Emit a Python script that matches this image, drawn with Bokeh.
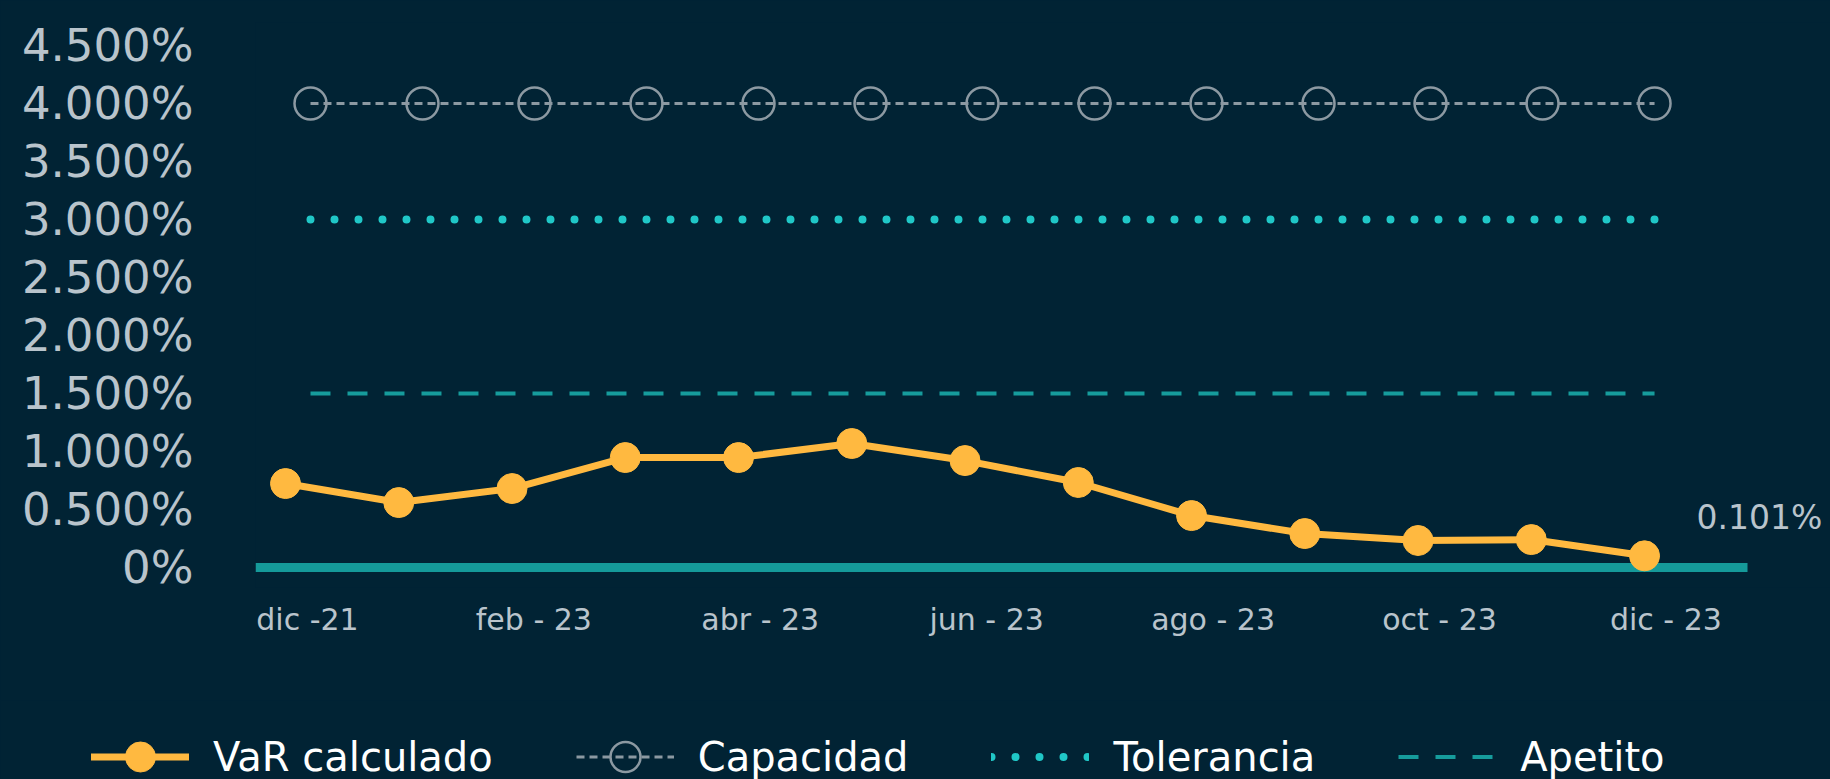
from bokeh.plotting import figure
from bokeh.layouts import column
from bokeh.models import (Range1d, LinearAxis, FixedTicker, Legend, LegendItem,
                          Label, ColumnDataSource)
from bokeh.embed import file_html
from bokeh.resources import INLINE

# ---------------- data ----------------
months = ["dic -21", "ene - 23", "feb - 23", "mar - 23", "abr - 23", "may - 23",
          "jun - 23", "jul - 23", "ago - 23", "sep - 23", "oct - 23", "nov - 23",
          "dic - 23"]
var_calculado = [0.724, 0.560, 0.681, 0.948, 0.948, 1.069, 0.922, 0.733,
                 0.448, 0.293, 0.233, 0.241, 0.101]
capacidad = [4.0, 4.0, 4.0, 4.0, 4.0, 4.0, 4.0, 4.0, 4.0, 4.0, 4.0, 4.0, 4.0]
tolerancia = [3.0, 3.0, 3.0, 3.0, 3.0, 3.0, 3.0, 3.0, 3.0, 3.0, 3.0, 3.0, 3.0]
apetito = [1.5, 1.5, 1.5, 1.5, 1.5, 1.5, 1.5, 1.5, 1.5, 1.5, 1.5, 1.5, 1.5]
series_names = ["VaR calculado", "Capacidad", "Tolerancia", "Apetito"]
y_ticks = [0, 0.5, 1.0, 1.5, 2.0, 2.5, 3.0, 3.5, 4.0, 4.5]
y_tick_labels = ["0%", "0.500%", "1.000%", "1.500%", "2.000%", "2.500%",
                 "3.000%", "3.500%", "4.000%", "4.500%"]
x_label_ticks = [0, 2, 4, 6, 8, 10, 12]

idx = list(range(len(months)))

BG = "#012334"
FONT = "DejaVu Sans"
C_VAR = "#FFB940"
C_CAP = "#8C99A2"
C_TOL = "#20C7C7"
C_APE = "#169C9C"
C_BASE = "#159A9A"
C_TICK = "#B9C4CC"

STY_VAR_L = dict(line_color=C_VAR, line_width=7, line_cap="round", line_join="round")
STY_VAR_M = dict(size=30, fill_color=C_VAR, line_color=C_VAR)
STY_CAP_L = dict(line_color=C_CAP, line_width=3, line_dash="8 5")
STY_CAP_M = dict(size=32, fill_color=None, line_color=C_CAP, line_width=2.5)
STY_TOL = dict(line_color=C_TOL, line_width=8, line_dash="0 24", line_cap="round")
STY_APE = dict(line_color=C_APE, line_width=4, line_dash="20 17")

X_START = -0.491      # left edge of the plotting area (category units)
BASE_END = 12.83      # where the zero line stops

src = ColumnDataSource(dict(x=idx, var=var_calculado, cap=capacidad,
                            tol=tolerancia, ape=apetito))

p = figure(width=1830, height=700, output_backend="svg", toolbar_location=None,
           x_range=Range1d(X_START, 13.571), y_range=Range1d(-0.172, 4.698),
           x_axis_location=None,
           min_border_left=255, min_border_right=0, min_border_top=22,
           min_border_bottom=113,
           background_fill_color=BG, border_fill_color=BG)
p.outline_line_color = None
p.frame_align = False
p.styles = {"background-color": BG}
p.extra_x_ranges = {"var": Range1d(-0.265, 13.642), "lab": Range1d(-0.459, 13.454)}
p.grid.visible = False

# y axis
ya = p.yaxis[0]
ya.ticker = FixedTicker(ticks=y_ticks)
ya.major_label_overrides = {t: l for t, l in zip(y_ticks, y_tick_labels)}
ya.axis_line_color = None
ya.major_tick_line_color = None
ya.minor_tick_line_color = None
ya.major_label_standoff = 56
ya.major_label_text_font = FONT
ya.major_label_text_font_size = "45px"
ya.major_label_text_color = C_TICK

# x axis
xa = LinearAxis(x_range_name="lab", ticker=FixedTicker(ticks=x_label_ticks),
                major_label_overrides={i: months[i] for i in x_label_ticks})
xa.axis_line_color = None
xa.major_tick_line_color = None
xa.minor_tick_line_color = None
xa.major_label_standoff = 8
xa.major_label_text_font = FONT
xa.major_label_text_font_size = "30px"
xa.major_label_text_color = C_TICK
p.add_layout(xa, "below")

# zero line
p.segment(x0=[X_START], x1=[BASE_END], y0=[0], y1=[0], line_color=C_BASE,
          line_width=9)

p.line("x", "ape", source=src, **STY_APE)
p.line("x", "tol", source=src, **STY_TOL)
p.line("x", "cap", source=src, **STY_CAP_L)
p.scatter("x", "cap", source=src, **STY_CAP_M)
p.line("x", "var", source=src, x_range_name="var", **STY_VAR_L)
p.scatter("x", "var", source=src, x_range_name="var", **STY_VAR_M)

# last value label
p.add_layout(Label(x=idx[-1], y=var_calculado[-1], x_range_name="var",
                   text=f"{var_calculado[-1]:.3f}%", x_offset=52, y_offset=38,
                   text_baseline="middle", text_align="left",
                   text_font=FONT, text_font_size="33px", text_color=C_TICK))

# ---------------- legend strip ----------------
# the strip's view window lies outside the data, so only the legend shows
q = figure(width=1830, height=79, output_backend="svg", toolbar_location=None,
           x_range=Range1d(0, 1), y_range=Range1d(10, 11),
           x_axis_location=None, y_axis_location=None,
           min_border=0, background_fill_color=BG, border_fill_color=BG)
q.outline_line_color = None
q.frame_align = False
q.styles = {"background-color": BG}
q.grid.visible = False
l_var = q.line("x", "var", source=src, **STY_VAR_L)
m_var = q.scatter("x", "var", source=src, **STY_VAR_M)
l_cap = q.line("x", "cap", source=src, **STY_CAP_L)
m_cap = q.scatter("x", "cap", source=src, **STY_CAP_M)
l_tol = q.line("x", "tol", source=src, **STY_TOL)
l_ape = q.line("x", "ape", source=src, **STY_APE)

legend = Legend(items=[
    LegendItem(label=series_names[0], renderers=[l_var, m_var]),
    LegendItem(label=series_names[1], renderers=[l_cap, m_cap]),
    LegendItem(label=series_names[2], renderers=[l_tol]),
    LegendItem(label=series_names[3], renderers=[l_ape]),
], orientation="horizontal", location=(91, -15), padding=0, margin=0,
    spacing=83, glyph_width=98, glyph_height=75, label_standoff=24,
    label_text_font=FONT, label_text_font_size="40px", label_text_color="#FFFFFF",
    border_line_color=None, background_fill_alpha=0)
q.add_layout(legend, "center")

layout = column(p, q, spacing=0)
layout.styles = {"background-color": BG}
open("out.html", "w").write(file_html(layout, INLINE))
